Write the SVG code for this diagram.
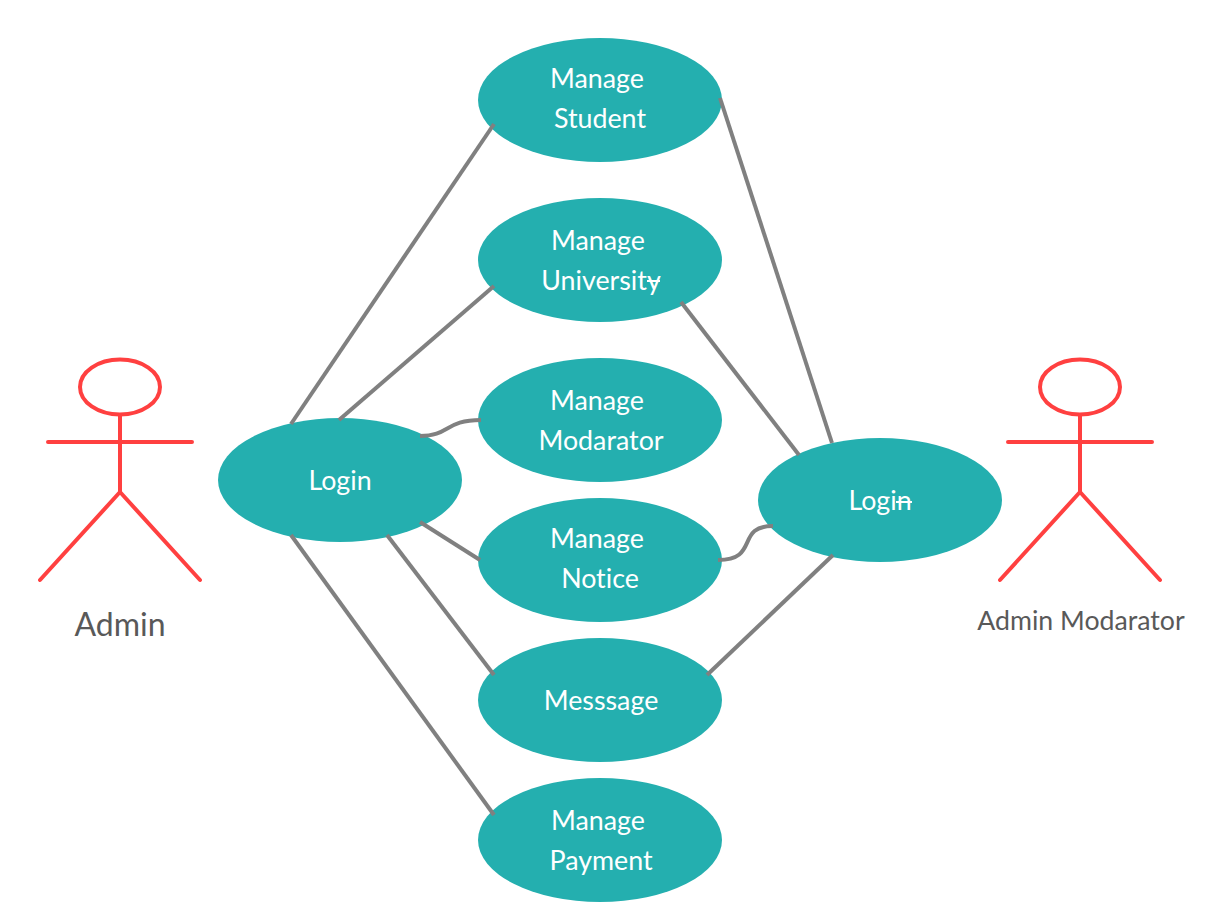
<svg xmlns="http://www.w3.org/2000/svg" width="1223" height="916" viewBox="0 0 1223 916">
<style>
.uc{fill:#24afaf}
.t{font-family:Lato,"Noto Sans",sans-serif;font-size:26.800px;fill:#fff;text-anchor:middle;font-variant-ligatures:none}
.c{fill:none;stroke:#808080;stroke-width:4}
.a{fill:none;stroke:#ff4040;stroke-width:4;stroke-linecap:round;stroke-linejoin:round}
.l{font-family:Lato,"Noto Sans",sans-serif;fill:#595959;text-anchor:middle}
.s{stroke:#fff;stroke-width:2;fill:none}
</style>
<rect width="1223" height="916" fill="#fff"/>
<g id="actor-admin">
<ellipse class="a" cx="120" cy="387" rx="40" ry="27.500"/>
<path class="a" d="M120 415V492M48 442H192M120 492L40 580M120 492L200 580"/>
<text class="l" x="120" y="636" font-size="32">Admin</text>
</g>
<g id="actor-admin-modarator">
<ellipse class="a" cx="1080" cy="387" rx="40" ry="27.500"/>
<path class="a" d="M1080 415V492M1008 442H1152M1080 492L1000 580M1080 492L1160 580"/>
<text class="l" x="1081" y="630" font-size="26.700">Admin Modarator</text>
</g>
<g id="login-admin"><ellipse class="uc" cx="340" cy="480" rx="122" ry="62"/><text class="t" x="340" y="490">Login</text></g>
<g id="login-modarator"><ellipse class="uc" cx="880" cy="500" rx="122" ry="62"/><text class="t" x="880" y="510">Login</text><path class="s" d="M896 502H912"/></g>
<g id="manage-student"><ellipse class="uc" cx="600" cy="100" rx="122" ry="62"/><text class="t" x="597" y="88">Manage</text><text class="t" x="600" y="128">Student</text></g>
<g id="manage-university"><ellipse class="uc" cx="600" cy="260" rx="122" ry="62"/><text class="t" x="598" y="250">Manage</text><text class="t" x="601" y="290">University</text><path class="s" d="M647 281H660"/></g>
<g id="manage-modarator"><ellipse class="uc" cx="600" cy="420" rx="122" ry="62"/><text class="t" x="597" y="410">Manage</text><text class="t" x="601" y="450">Modarator</text></g>
<g id="manage-notice"><ellipse class="uc" cx="600" cy="560" rx="122" ry="62"/><text class="t" x="597" y="548">Manage</text><text class="t" x="600" y="588">Notice</text></g>
<g id="message"><ellipse class="uc" cx="600" cy="700" rx="122" ry="62"/><text class="t" x="601" y="710">Messsage</text></g>
<g id="manage-payment"><ellipse class="uc" cx="600" cy="840" rx="122" ry="62"/><text class="t" x="598" y="830">Manage</text><text class="t" x="601" y="870">Payment</text></g>
<g id="connectors">
<path class="c" d="M291 424L494 124"/>
<path class="c" d="M339 420L494 286"/>
<path class="c" d="M420 436C450 436 445 420 481 420"/>
<path class="c" d="M420 522L480 560"/>
<path class="c" d="M387 535L494 675"/>
<path class="c" d="M291 535L494 815"/>
<path class="c" d="M720 98L832 443"/>
<path class="c" d="M681 302L799 455"/>
<path class="c" d="M718 560C760 560 735 526 773 526"/>
<path class="c" d="M707 675L833 555"/>
</g>
</svg>
